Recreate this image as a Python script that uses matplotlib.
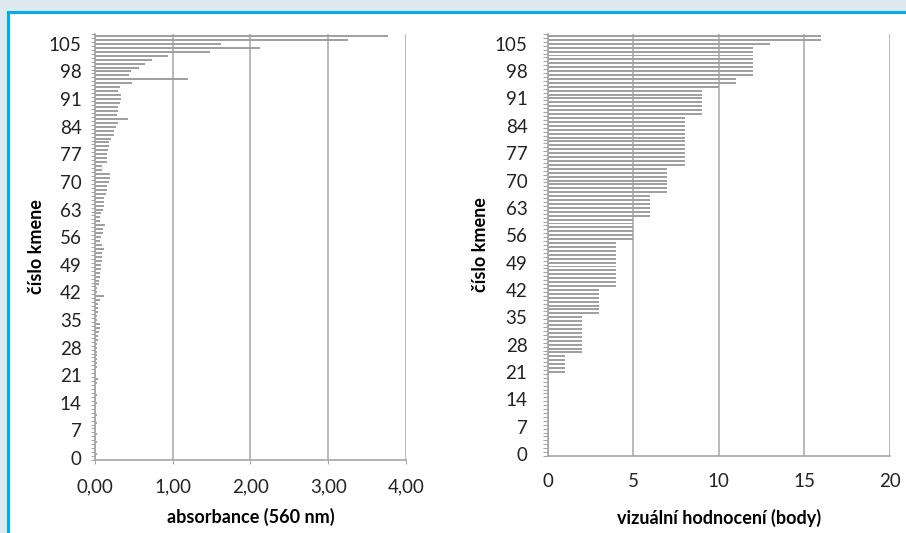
import matplotlib
matplotlib.use("Agg")
import matplotlib.pyplot as plt
from matplotlib.patches import Rectangle
from matplotlib.ticker import FuncFormatter

plt.rcParams['font.family'] = ['Lato', 'DejaVu Sans']

# cislo kmene 0..107 (sorted by visual score)
kmen = list(range(108))

absorbance = [
    0.01, 0.02, 0.01, 0.01, 0.02, 0.01, 0.02, 0.01, 0.01, 0.02,   # 0-9
    0.01, 0.02, 0.01, 0.01, 0.02, 0.01, 0.02, 0.01, 0.01, 0.02,   # 10-19
    0.04, 0.01, 0.01, 0.02, 0.03, 0.02, 0.03, 0.03, 0.03, 0.03,   # 20-29
    0.04, 0.04, 0.05, 0.06, 0.06, 0.03, 0.03, 0.04, 0.04, 0.04,   # 30-39
    0.06, 0.12, 0.02, 0.03, 0.05, 0.05, 0.06, 0.07, 0.08, 0.08,   # 40-49
    0.09, 0.09, 0.09, 0.11, 0.09, 0.06, 0.08, 0.10, 0.10, 0.13,   # 50-59
    0.06, 0.07, 0.08, 0.10, 0.11, 0.12, 0.12, 0.14, 0.15, 0.16,   # 60-69
    0.18, 0.19, 0.19, 0.09, 0.09, 0.15, 0.16, 0.16, 0.17, 0.18,   # 70-79
    0.18, 0.21, 0.24, 0.24, 0.27, 0.29, 0.43, 0.28, 0.29, 0.30,   # 80-89
    0.32, 0.33, 0.34, 0.29, 0.32, 0.48, 1.19, 0.44, 0.46, 0.56,   # 90-99
    0.64, 0.73, 0.94, 1.48, 2.12, 1.62, 3.26, 3.77,               # 100-107
]

hodnoceni = ([0] * 21 + [1] * 5 + [2] * 10 + [3] * 7 + [4] * 12 + [5] * 6
             + [6] * 6 + [7] * 7 + [8] * 13 + [9] * 7 + [10] * 1 + [11] * 2
             + [12] * 8 + [13] * 1 + [16] * 2)

ytick_labels = list(range(0, 106, 7))

bar_color = '#a0a0a0'
grid_color = '#a6a6a6'

fig = plt.figure(figsize=(9.06, 5.33), dpi=100)
fig.patch.set_facecolor('#dfe9ef')
fig.patches.append(Rectangle((8 / 906, -0.1), 1.2, 1.1 - 12 / 533,
                             transform=fig.transFigure, facecolor='white',
                             edgecolor='#00aeef', lw=2.2, zorder=-10))


def style_axes(ax, xmax, xstep, ytick_pad, ytick_len, xtick_len, xtick_pad):
    ax.set_facecolor('none')
    ax.set_ylim(-0.5, 107.5)
    ax.set_xlim(0, xmax)
    ax.set_xticks([xstep * i for i in range(int(xmax / xstep) + 1)])
    ax.set_yticks(ytick_labels)
    ax.set_yticks([k - 0.5 for k in range(109)], minor=True)
    ax.tick_params(axis='y', which='major', length=0, pad=ytick_pad + ytick_len,
                   labelsize=13.5, labelcolor='#222222')
    ax.tick_params(axis='y', which='minor', length=ytick_len, width=0.8,
                   color=grid_color, direction='out')
    ax.tick_params(axis='x', length=xtick_len, width=0.8, color=grid_color,
                   pad=xtick_pad, labelsize=13.5, labelcolor='#222222')
    for s in ['top', 'right']:
        ax.spines[s].set_visible(False)
    for s in ['left', 'bottom']:
        ax.spines[s].set_color(grid_color)
        ax.spines[s].set_linewidth(1.2)
    ax.grid(axis='x', color=grid_color, lw=1.1)
    ax.set_axisbelow(True)


# left: absorbance
ax1 = fig.add_axes([95 / 906, 1 - 460 / 533, 311 / 906, 426 / 533])
ax1.barh(kmen, absorbance, height=0.5, color=bar_color, zorder=2)
style_axes(ax1, 4, 1, 6.5, 3, 3, 10)
ax1.xaxis.set_major_formatter(FuncFormatter(lambda v, p: f'{v:.2f}'.replace('.', ',')))
ax1.set_xlabel('absorbance (560 nm)', fontsize=13, fontweight='bold', labelpad=9.5)
ax1.set_ylabel('číslo kmene', fontsize=13, fontweight='bold', labelpad=3)

# right: visual score
ax2 = fig.add_axes([547.7 / 906, 1 - 456 / 533, 342 / 906, 422 / 533])
ax2.barh(kmen, hodnoceni, height=0.5, color=bar_color, zorder=2)
style_axes(ax2, 20, 5, 11, 3.6, 0, 12.5)
ax2.set_xlabel('vizuální hodnocení (body)', fontsize=13, fontweight='bold', labelpad=13)
ax2.set_ylabel('číslo kmene', fontsize=13, fontweight='bold', labelpad=4)

fig.savefig('out.png', dpi=100, facecolor=fig.get_facecolor())
